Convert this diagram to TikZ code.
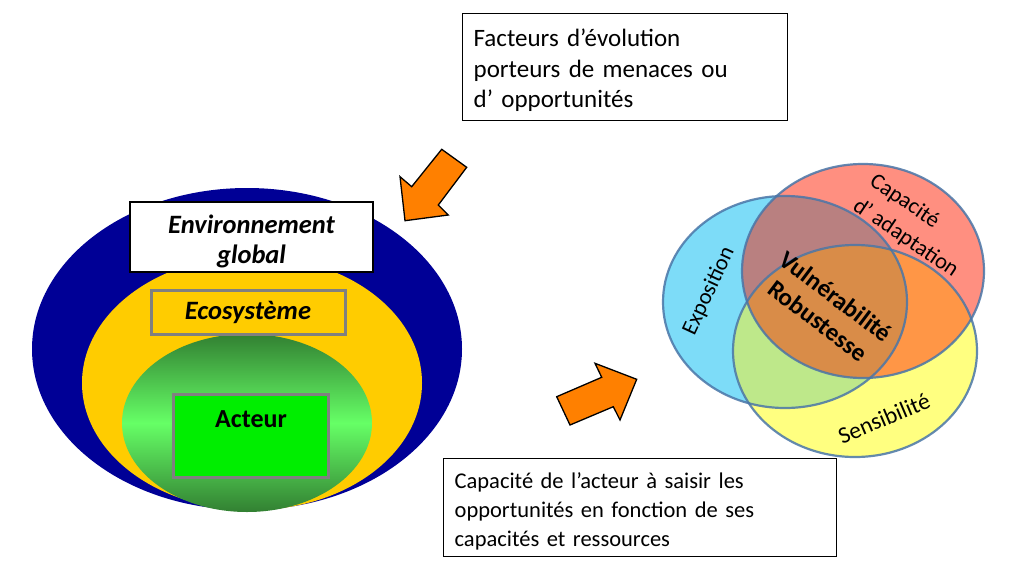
\documentclass[tikz,border=0pt]{standalone}
\usepackage{fontspec}
\setmainfont{Carlito}
\definecolor{envblue}{RGB}{0,0,150}
\definecolor{ecoyellow}{RGB}{255,204,0}
\definecolor{dgreen}{RGB}{50,128,50}
\definecolor{lgreen}{RGB}{102,255,102}
\definecolor{actgreen}{RGB}{0,238,0}
\definecolor{boxgray}{RGB}{128,128,128}
\definecolor{arroworange}{RGB}{255,128,0}
\definecolor{vblue}{RGB}{125,220,248}
\definecolor{vred}{RGB}{255,143,128}
\definecolor{vyellow}{RGB}{255,255,128}
\definecolor{vmauve}{RGB}{185,128,128}
\definecolor{vorange}{RGB}{255,150,70}
\definecolor{vgreen}{RGB}{190,232,138}
\definecolor{vcenter}{RGB}{217,140,72}
\definecolor{vline}{RGB}{74,118,168}
\newcommand\venExpo{(785,302) ellipse [x radius=122pt, y radius=106pt]}
\newcommand\venCapa{(863,271) ellipse [x radius=121pt, y radius=107pt]}
\newcommand\venSens{(855,351) ellipse [x radius=122pt, y radius=106pt]}
\tikzset{
  txtbox/.style={draw=black, line width=1.3pt, fill=white, align=left, inner xsep=11pt,
    font=\fontsize{25}{30.5}\selectfont},
  envbox/.style={draw=black, line width=2pt, fill=white, align=center,
    font=\fontsize{26.5}{30}\selectfont\bfseries\itshape},
  graybox/.style={draw=boxgray, line width=3pt},
  bigarrow/.style={draw=black, line width=1.3pt, fill=arroworange, line join=miter},
  venntxt/.style={font=\fontsize{22.5}{30}\selectfont, align=center},
  vennline/.style={draw=vline, line width=2.2pt, draw opacity=0.85},
}
\begin{document}
\begin{tikzpicture}[x=1pt, y=-1pt]
\useasboundingbox (0,0) rectangle (1024,572);
\fill[white] (0,0) rectangle (1024,572);

% nested ellipses
\fill[envblue] (247,349) ellipse [x radius=215pt, y radius=161pt];
\fill[ecoyellow] (252,383) ellipse [x radius=170pt, y radius=127pt];
\path[top color=dgreen, bottom color=dgreen, middle color=lgreen] (247,423) ellipse [x radius=125pt, y radius=89pt];

\node[envbox, minimum width=243pt, minimum height=70pt] (env) at (251.5,237) {\rule{0pt}{27pt}Environnement\\global};
\node[graybox, fill=ecoyellow, minimum width=194pt, minimum height=44pt,
  font=\fontsize{26.5}{30}\selectfont\bfseries\itshape] (eco) at (248,312) {Ecosyst\`eme};
\node[graybox, fill=actgreen, minimum width=155pt, minimum height=83pt] (acteur) at (250.5,435.5) {};
\node[font=\fontsize{26}{30}\selectfont\bfseries] (acteurlbl) at (251,419) {Acteur};

% text boxes
\node[txtbox, anchor=north west, text width=303pt, minimum height=107pt] (facteurs) at (462,13)
  {\rule{0pt}{24pt}Facteurs d’évolution\\porteurs de menaces ou\\d’ opportunités};
\node[txtbox, anchor=north west, text width=371pt, minimum height=98pt,
  font=\fontsize{22.5}{29}\selectfont] (capacite) at (443,458)
  {\rule{0pt}{24pt}Capacité de l’acteur à saisir les\\opportunités en fonction de ses\\capacités et ressources};

% arrows
\draw[bigarrow] (441.7,149.3) -- (466.7,167.3) -- (438.3,205) -- (448.3,215) -- (405,220.7)
  -- (400,176.7) -- (411.7,186.7) -- cycle;
\draw[bigarrow] (556.7,396.7) -- (601.7,377.3) -- (595,363.3) -- (636.7,379.3) -- (620,420)
  -- (613.3,406.7) -- (570,425) -- cycle;

% Venn diagram
\fill[vblue] \venExpo;
\fill[vred] \venCapa;
\fill[vyellow] \venSens;
\begin{scope}
  \clip \venExpo;
  \fill[vmauve] \venCapa;
  \fill[vgreen] \venSens;
\end{scope}
\begin{scope}
  \clip \venCapa;
  \fill[vorange] \venSens;
  \clip \venExpo;
  \fill[vcenter] \venSens;
\end{scope}
\draw[vennline] \venExpo;
\draw[vennline] \venCapa;
\draw[vennline] \venSens;

\node[venntxt, rotate=65] (expo) at (709,291) {Exposition};
\node[venntxt, align=left, rotate=-34] (adapt) at (914,226) {Capacité\\d’ adaptation};
\node[venntxt, font=\fontsize{23.5}{30}\selectfont, rotate=23] (sens) at (884,418) {Sensibilité};
\node[venntxt, font=\fontsize{25}{30}\selectfont\bfseries, rotate=-37] (vuln) at (827,308.5) {Vulnérabilité\\Robustesse};
\end{tikzpicture}
\end{document}
